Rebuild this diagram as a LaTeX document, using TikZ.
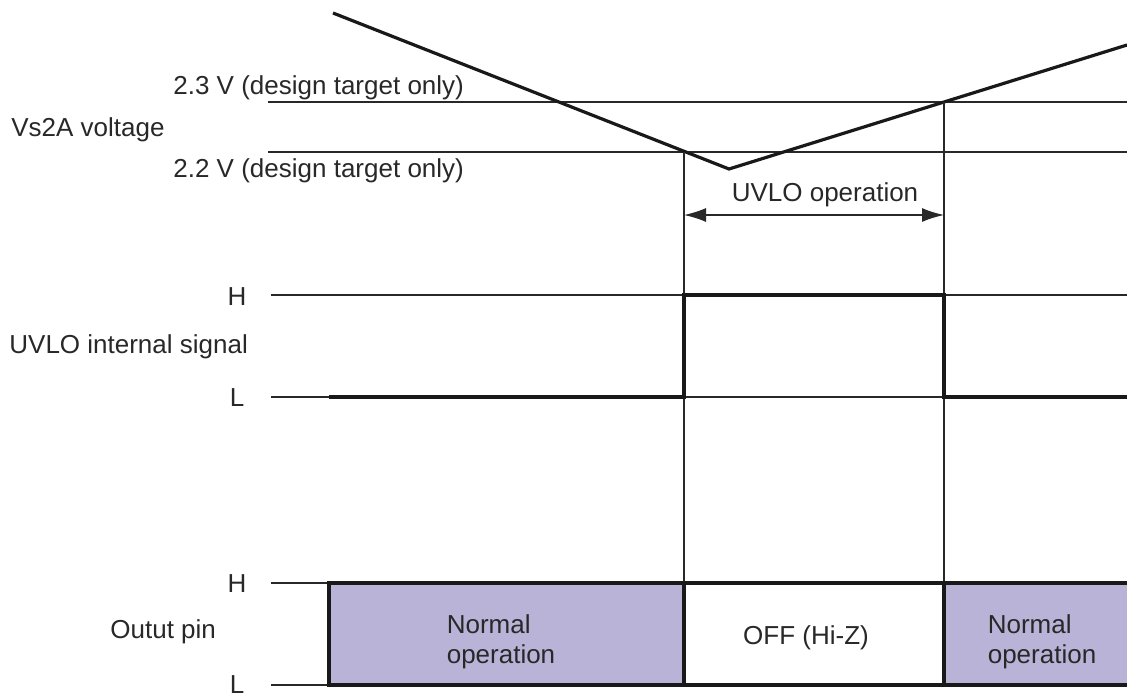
\documentclass[tikz,border=0pt]{standalone}
\usepackage{fontspec}
\setmainfont{Liberation Sans}
\usetikzlibrary{arrows.meta}
\definecolor{normalfill}{RGB}{185,179,215}
\definecolor{inkgray}{RGB}{40,40,40}
\tikzset{
	thinline/.style={line width=0.7pt, color=inkgray},
	sigline/.style={line width=1.6pt, color=black!90},
	lbl/.style={inner sep=0pt, text=inkgray, font=\fontsize{13}{15}\selectfont},
	boxlbl/.style={lbl, align=left}
}

\begin{document}
\begin{tikzpicture}[x=0.5pt, y=-0.5pt]
			%%%%% START %%%%%
			\useasboundingbox (0, 0) rectangle (1127, 696);
			
			% Vs2A voltage
			\draw[thinline] (268, 102) -- (1127, 102);
			\draw[thinline] (268, 152) -- (1127, 152);
			\draw[sigline] (333, 13) -- (729, 169) -- (1127, 45);
			\node[lbl, anchor=west] (vhi) at (173, 88) {2.3 V (design target only)};
			\node[lbl, anchor=west] (vlo) at (173, 171) {2.2 V (design target only)};
			\node[lbl, anchor=west] (vname) at (11, 130) {Vs2A voltage};
			
			% UVLO window
			\coordinate (tA) at (684, 152);
			\coordinate (tB) at (944, 102);
			\draw[thinline] (tA) -- (684, 685);
			\draw[thinline] (tB) -- (944, 685);
			\coordinate (wa) at (684, 215);
			\coordinate (wb) at (944, 215);
			\draw[thinline, {Latex[length=11pt,width=7pt]}-{Latex[length=11pt,width=7pt]}] (wa) -- (wb);
			\node[lbl] (uvop) at (825, 195) {UVLO operation};
			
			% UVLO internal signal
			\draw[thinline] (271, 295) -- (1127, 295);
			\draw[thinline] (271, 397) -- (1127, 397);
			\draw[sigline] (329, 397) -- (684, 397) -- (684, 295) -- (944, 295) -- (944, 397) -- (1127, 397);
			\node[lbl] (uh) at (237, 297) {H};
			\node[lbl] (ul) at (237, 398) {L};
			\node[lbl, anchor=west] (uname) at (9, 347) {UVLO internal signal};
			
			% Output pin
			\draw[thinline] (271, 583) -- (329, 583);
			\draw[thinline] (271, 685) -- (329, 685);
			\begin{scope}
				\clip (0, 0) rectangle (1127, 696);
				\draw[sigline, fill=normalfill] (329, 583) rectangle (684, 685);
				\draw[sigline, fill=white] (684, 583) rectangle (944, 685);
				\draw[sigline, fill=normalfill] (944, 583) rectangle (1140, 685);
			\end{scope}
			\node[lbl] (oh) at (237, 584) {H};
			\node[lbl] (ol) at (237, 685) {L};
			\node[lbl, anchor=west] (oname) at (110, 632) {Outut pin};
			\node[boxlbl] (norm1) at (501, 642) {Normal\\operation};
			\node[lbl] (off) at (806, 638) {OFF (Hi-Z)};
			\node[boxlbl] (norm2) at (1042, 642) {Normal\\operation};
			
			%%%%% END %%%%%
		\end{tikzpicture}
\end{document}
